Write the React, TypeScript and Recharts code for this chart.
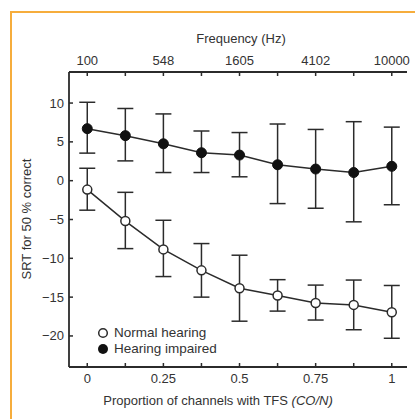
import React from "react"
import {
  ComposedChart,
  Line,
  XAxis,
  YAxis,
  ErrorBar,
} from "recharts"

// proportion of channels with TFS
const proportions = [0, 0.125, 0.25, 0.375, 0.5, 0.625, 0.75, 0.875, 1]

// hearing impaired (filled)
const impairedMean = [6.7, 5.8, 4.75, 3.6, 3.3, 2.05, 1.5, 1.05, 1.85]
const impairedHigh = [10.1, 9.3, 8.6, 6.4, 6.2, 7.3, 6.6, 7.6, 6.9]
const impairedLow = [3.55, 2.55, 1.05, 1.05, 0.5, -2.95, -3.55, -5.3, -3.1]

// normal hearing (open)
const normalMean = [-1.15, -5.2, -8.85, -11.55, -13.85, -14.8, -15.75, -16.0, -16.95]
const normalHigh = [1.6, -1.5, -5.1, -8.1, -9.6, -12.75, -13.45, -12.8, -13.5]
const normalLow = [-3.8, -8.75, -12.35, -15.0, -18.1, -16.8, -17.95, -19.2, -20.3]

// axis ticks
const xTicks = [0, 0.125, 0.25, 0.375, 0.5, 0.625, 0.75, 0.875, 1]
const xLabels = ["0", "", "0.25", "", "0.5", "", "0.75", "", "1"]
const freqLabels = ["100", "", "548", "", "1605", "", "4102", "", "10000"]
const yTicks = [-20, -15, -10, -5, 0, 5, 10]

const data = proportions.map((p, i) => ({
  p,
  impaired: impairedMean[i],
  impairedErr: [impairedMean[i] - impairedLow[i], impairedHigh[i] - impairedMean[i]],
  normal: normalMean[i],
  normalErr: [normalMean[i] - normalLow[i], normalHigh[i] - normalMean[i]],
}))

const INK = "#2b2b2b"
const TEXT = "#333"
const FONT = "'Liberation Sans', Arial, sans-serif"

const BottomTick = (props: any) => {
  const { x, y, index } = props
  return (
    <g>
      <line x1={x} y1={y} x2={x} y2={y - 4} stroke={INK} strokeWidth={1.5} />
      <text x={x} y={y + 16} textAnchor="middle" fontSize={13} fill={TEXT} fontFamily={FONT}>
        {xLabels[index]}
      </text>
    </g>
  )
}

const TopTick = (props: any) => {
  const { x, y, index } = props
  return (
    <g>
      <line x1={x} y1={y} x2={x} y2={y + 4} stroke={INK} strokeWidth={1.5} />
      <text x={x} y={y - 7} textAnchor="middle" fontSize={13} fill={TEXT} fontFamily={FONT}>
        {freqLabels[index]}
      </text>
    </g>
  )
}

const LeftTick = (props: any) => {
  const { x, y, payload } = props
  return (
    <g>
      <line x1={x} y1={y} x2={x + 4} y2={y} stroke={INK} strokeWidth={1.5} />
      <text x={x - 5} y={y} textAnchor="end" dominantBaseline="central" fontSize={13} fill={TEXT} fontFamily={FONT}>
        {String(payload.value).replace("-", "\u2212")}
      </text>
    </g>
  )
}

const RightTick = (props: any) => {
  const { x, y } = props
  return <line x1={x} y1={y} x2={x - 4} y2={y} stroke={INK} strokeWidth={1.5} />
}

const renderTopTitle = (props: any) => {
  const { viewBox } = props
  return (
    <text x={viewBox.x + viewBox.width / 2 + 3} y={43} textAnchor="middle" fontSize={13} fill={TEXT} fontFamily={FONT}>
      Frequency (Hz)
    </text>
  )
}

const renderBottomTitle = (props: any) => {
  const { viewBox } = props
  return (
    <text x={viewBox.x + viewBox.width / 2 - 20} y={405} textAnchor="middle" fontSize={13} fill={TEXT} fontFamily={FONT}>
      Proportion of channels with TFS <tspan fontStyle="italic">(CO/N)</tspan>
    </text>
  )
}

const renderYTitle = () => (
  <text
    x={26}
    y={219}
    transform="rotate(-90 26 219)"
    textAnchor="middle"
    dominantBaseline="central"
    fontSize={13}
    fill={TEXT}
    fontFamily={FONT}
  >
    SRT for 50 % correct
  </text>
)

export default function App() {
  return (
    <div style={{ position: "absolute", left: 0, top: 0, width: 415, height: 419, background: "#fff", overflow: "hidden" }}>
      <div
        style={{
          position: "absolute",
          left: 10,
          top: 11,
          width: 430,
          height: 430,
          borderLeft: "2px solid #f6ad3c",
          borderTop: "2px solid #f6ad3c",
        }}
      />
      <ComposedChart
        width={415}
        height={419}
        data={data}
        margin={{ top: 0, right: 8, bottom: 0, left: 0 }}
        style={{ position: "absolute", left: 0, top: 0 }}
      >
        <XAxis
          dataKey="p"
          type="number"
          domain={[-0.06, 1.05]}
          ticks={xTicks}
          allowDataOverflow
          height={52}
          axisLine={{ stroke: INK, strokeWidth: 1.8 }}
          tickLine={false}
          tickSize={0}
          tickMargin={0}
          tick={<BottomTick />}
          interval={0}
          label={renderBottomTitle}
        />
        <XAxis
          xAxisId="top"
          dataKey="p"
          type="number"
          orientation="top"
          domain={[-0.06, 1.05]}
          ticks={xTicks}
          allowDataOverflow
          height={72}
          axisLine={{ stroke: INK, strokeWidth: 1.8 }}
          tickLine={false}
          tickSize={0}
          tickMargin={0}
          tick={<TopTick />}
          interval={0}
          label={renderTopTitle}
        />
        <YAxis
          type="number"
          domain={[-24, 14]}
          ticks={yTicks}
          allowDataOverflow
          width={69}
          axisLine={{ stroke: INK, strokeWidth: 1.8 }}
          tickLine={false}
          tickSize={0}
          tickMargin={0}
          tick={<LeftTick />}
          interval={0}
          label={renderYTitle}
        />
        <YAxis
          yAxisId="right"
          orientation="right"
          type="number"
          domain={[-24, 14]}
          ticks={yTicks}
          allowDataOverflow
          width={0}
          axisLine={{ stroke: INK, strokeWidth: 1.8 }}
          tickLine={false}
          tickSize={0}
          tickMargin={0}
          tick={<RightTick />}
          interval={0}
        />
        <Line
          dataKey="impaired"
          stroke={INK}
          strokeWidth={1.5}
          dot={{ r: 5, fill: "#111", stroke: "#111", strokeWidth: 1 }}
          isAnimationActive={false}
        >
          <ErrorBar dataKey="impairedErr" direction="y" width={8} stroke={INK} strokeWidth={1.5} isAnimationActive={false} />
        </Line>
        <Line
          dataKey="normal"
          stroke={INK}
          strokeWidth={1.5}
          dot={{ r: 4.5, fill: "#fff", stroke: INK, strokeWidth: 1.5 }}
          isAnimationActive={false}
        >
          <ErrorBar dataKey="normalErr" direction="y" width={8} stroke={INK} strokeWidth={1.5} isAnimationActive={false} />
        </Line>
      </ComposedChart>
      <div
        style={{
          position: "absolute",
          left: 97,
          top: 325,
          fontFamily: FONT,
          fontSize: 13.5,
          color: TEXT,
          lineHeight: "16px",
        }}
      >
        <div style={{ display: "flex", alignItems: "center" }}>
          <svg width={12} height={12} style={{ marginRight: 5 }}>
            <circle cx={6} cy={6} r={4.3} fill="#fff" stroke={INK} strokeWidth={1.5} />
          </svg>
          <span>Normal hearing</span>
        </div>
        <div style={{ display: "flex", alignItems: "center" }}>
          <svg width={12} height={12} style={{ marginRight: 5 }}>
            <circle cx={6} cy={6} r={5} fill="#111" />
          </svg>
          <span>Hearing impaired</span>
        </div>
      </div>
    </div>
  )
}
